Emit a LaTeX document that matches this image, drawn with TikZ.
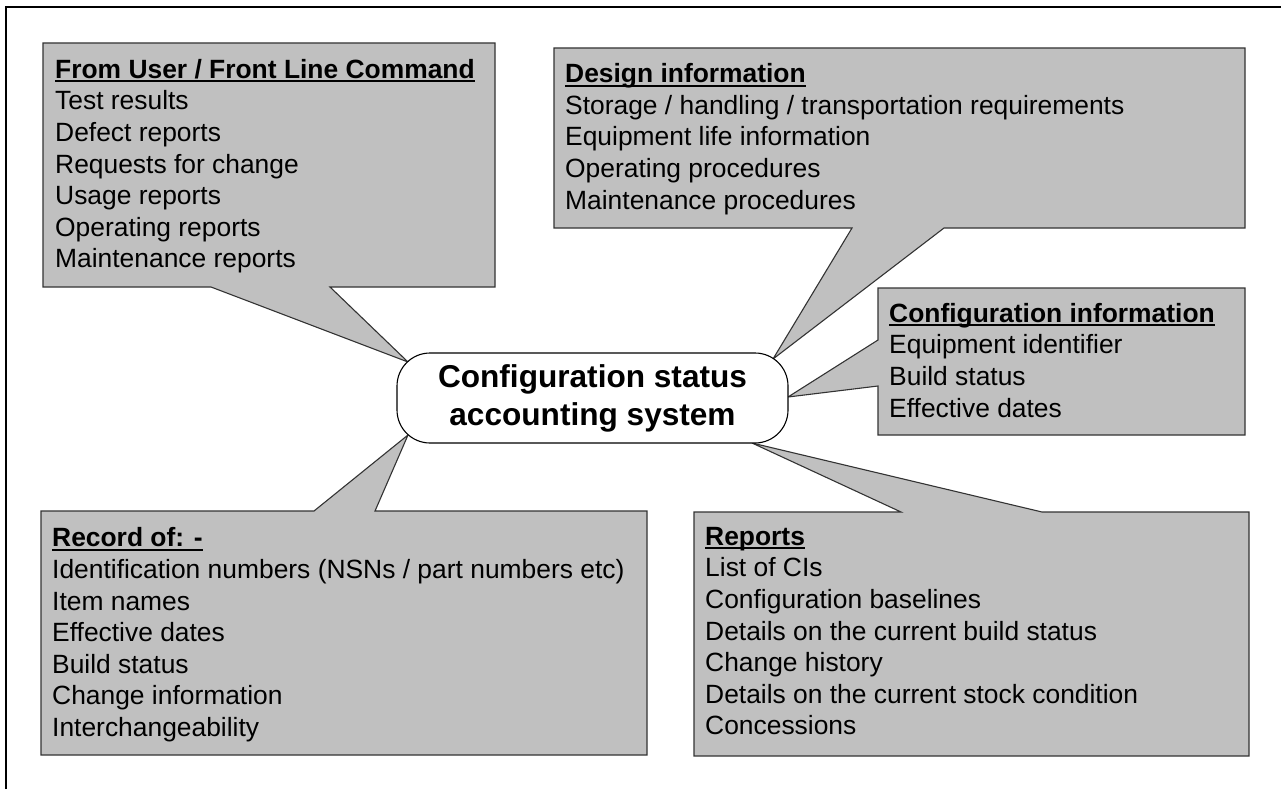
\documentclass[tikz,border=0pt]{standalone}
\usepackage{fontspec}
\setmainfont{Liberation Sans}
\definecolor{boxfill}{HTML}{C0C0C0}
\definecolor{boxline}{HTML}{333333}
\newcommand\hdr[1]{\setbox0\hbox{\bfseries #1}\rlap{\rule[-3.8pt]{\wd0}{1.9pt}}\box0}
\tikzset{
  callout/.style={fill=boxfill, draw=boxline, line width=1.1pt, line join=miter},
  boxtext/.style={anchor=north west, inner sep=0pt, align=left, font=\fontsize{26.4}{31.6}\selectfont},
  central/.style={draw=black, fill=white, line width=1.1pt, rounded corners=33pt, minimum width=391pt, minimum height=90pt, inner sep=0pt, align=center, font=\fontsize{31.6}{38}\selectfont\bfseries},
  frame/.style={draw=black, line width=1.5pt}
}
\begin{document}
\begin{tikzpicture}[x=1pt,y=-1pt]
\useasboundingbox (0,0) rectangle (1281,789);
\draw[frame] (6,789) -- (6,7) -- (1281,7);

% tips
\coordinate (tip1) at (408,362);
\coordinate (tip2) at (773,359);
\coordinate (tip3) at (788,397);
\coordinate (tip4) at (752,443);
\coordinate (tip5) at (408,435);

% callouts
\draw[callout] (43,43) -- (495,43) -- (495,287) -- (330,287) -- (tip1) -- (211,287) -- (43,287) -- cycle;
\draw[callout] (554,48) -- (1245,48) -- (1245,228) -- (944,228) -- (tip2) -- (852,228) -- (554,228) -- cycle;
\draw[callout] (878,288) -- (1245,288) -- (1245,435) -- (878,435) -- (878,386) -- (tip3) -- (878,340) -- cycle;
\draw[callout] (41,511) -- (314,511) -- (tip5) -- (375,511) -- (647,511) -- (647,755) -- (41,755) -- cycle;
\draw[callout] (694,512) -- (901,512) -- (tip4) -- (1042,512) -- (1249,512) -- (1249,756) -- (694,756) -- cycle;

% texts
\node[boxtext] (t1) at (55,55.9) {\strut\hdr{From User / Front Line Command}\\Test results\\Defect reports\\Requests for change\\Usage reports\\Operating reports\\Maintenance reports};
\node[boxtext] (t2) at (565,60.4) {\strut\hdr{Design information}\\Storage / handling / transportation requirements\\Equipment life information\\Operating procedures\\Maintenance procedures};
\node[boxtext] (t3) at (889,299.9) {\strut\hdr{Configuration information}\\Equipment identifier\\Build status\\Effective dates};
\node[boxtext] (t4) at (52,524.6) {\strut\hdr{Record of: -}\\Identification numbers (NSNs / part numbers etc)\\Item names\\Effective dates\\Build status\\Change information\\Interchangeability};
\node[boxtext] (t5) at (705,522.9) {\strut\hdr{Reports}\\List of CIs\\Configuration baselines\\Details on the current build status\\Change history\\Details on the current stock condition\\Concessions};

% central node
\node[central] (c) at (592.5,398) {Configuration status\\accounting system};
\end{tikzpicture}
\end{document}
